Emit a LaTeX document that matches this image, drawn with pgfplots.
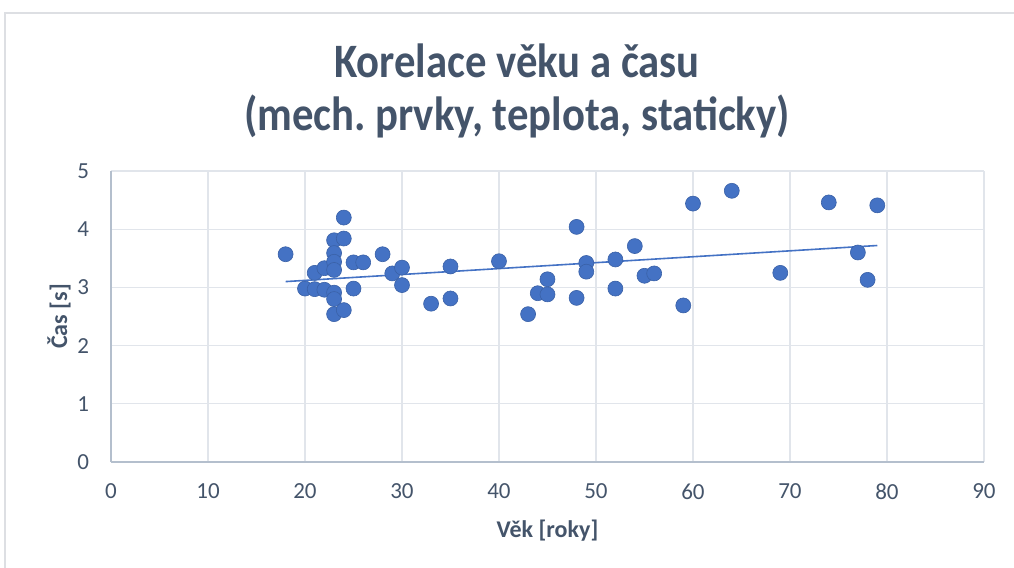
\documentclass[border=0pt]{standalone}
\usepackage{fontspec}
\setmainfont{Carlito}
\usepackage{pgfplots}
\pgfplotsset{compat=1.18}

\definecolor{txt}{HTML}{44546A}
\definecolor{dots}{HTML}{4472C4}
\definecolor{gridc}{HTML}{E1E5EB}
\definecolor{axc}{HTML}{B4BFCD}
\definecolor{frame}{HTML}{DDDFE3}

\pgfplotstableread{
vek cas
18 3.57
20 2.98
21 3.25
21 2.97
22 3.33
22 2.96
23 3.81
23 3.59
23 3.44
23 3.30
23 2.91
23 2.80
23 2.54
24 4.20
24 3.84
24 2.61
25 3.43
25 2.98
26 3.43
28 3.57
29 3.24
30 3.34
30 3.04
33 2.72
35 3.36
35 2.81
40 3.45
43 2.54
44 2.90
45 3.14
45 2.88
48 4.04
48 2.82
49 3.42
49 3.27
52 3.48
52 2.98
54 3.71
55 3.20
56 3.24
59 2.69
60 4.44
64 4.66
69 3.25
74 4.46
77 3.60
78 3.13
79 4.41
}\vekcas

\begin{document}
\begin{tikzpicture}
% 1 px of the reference = 0.5pt, axis corner at (0,0)
\useasboundingbox (-55.5pt,-53pt) rectangle (451.5pt,231pt);
\draw[frame, line width=0.6pt] (-53pt,-70pt) -- (-53pt,224.5pt) -- (470pt,224.5pt);

\begin{axis}[
  at={(0,0)}, anchor=south west,
  scale only axis,
  width=436.5pt, height=145.5pt,
  xmin=0, xmax=90, ymin=0, ymax=5,
  xtick={0,10,...,90}, ytick={0,1,...,5},
  grid=major,
  major grid style={gridc, line width=0.6pt},
  axis lines*=left,
  axis line style={axc, line width=0.7pt},
  major tick length=0pt,
  tick label style={txt, font=\fontsize{11.5}{13}\selectfont},
  xticklabel style={yshift=-7.5pt},
  yticklabel style={xshift=-7.5pt},
  /pgf/number format/assume math mode=true,
  clip=false,
]
\addplot[dots, line width=0.8pt, forget plot] coordinates {(18,3.10) (79,3.72)};
\addplot[only marks, mark=*, mark size=3.75pt,
  mark options={fill=dots, draw=dots!85!black, line width=0.3pt}]
  table[x=vek, y=cas] {\vekcas};
\end{axis}

\node[txt, anchor=base, xscale=0.89, font=\fontsize{24}{28}\selectfont\bfseries] at (203pt,192pt) {Korelace věku a času};
\node[txt, anchor=base, xscale=0.89, font=\fontsize{24}{28}\selectfont\bfseries] at (203pt,165.5pt) {(mech.\ prvky, teplota, staticky)};
\node[txt, anchor=base, font=\fontsize{12}{14}\selectfont\bfseries] at (218.25pt,-38pt) {Věk [roky]};
\node[txt, anchor=center, rotate=90, font=\fontsize{12}{14}\selectfont\bfseries] at (-26pt,72.75pt) {Čas [s]};
\end{tikzpicture}
\end{document}
